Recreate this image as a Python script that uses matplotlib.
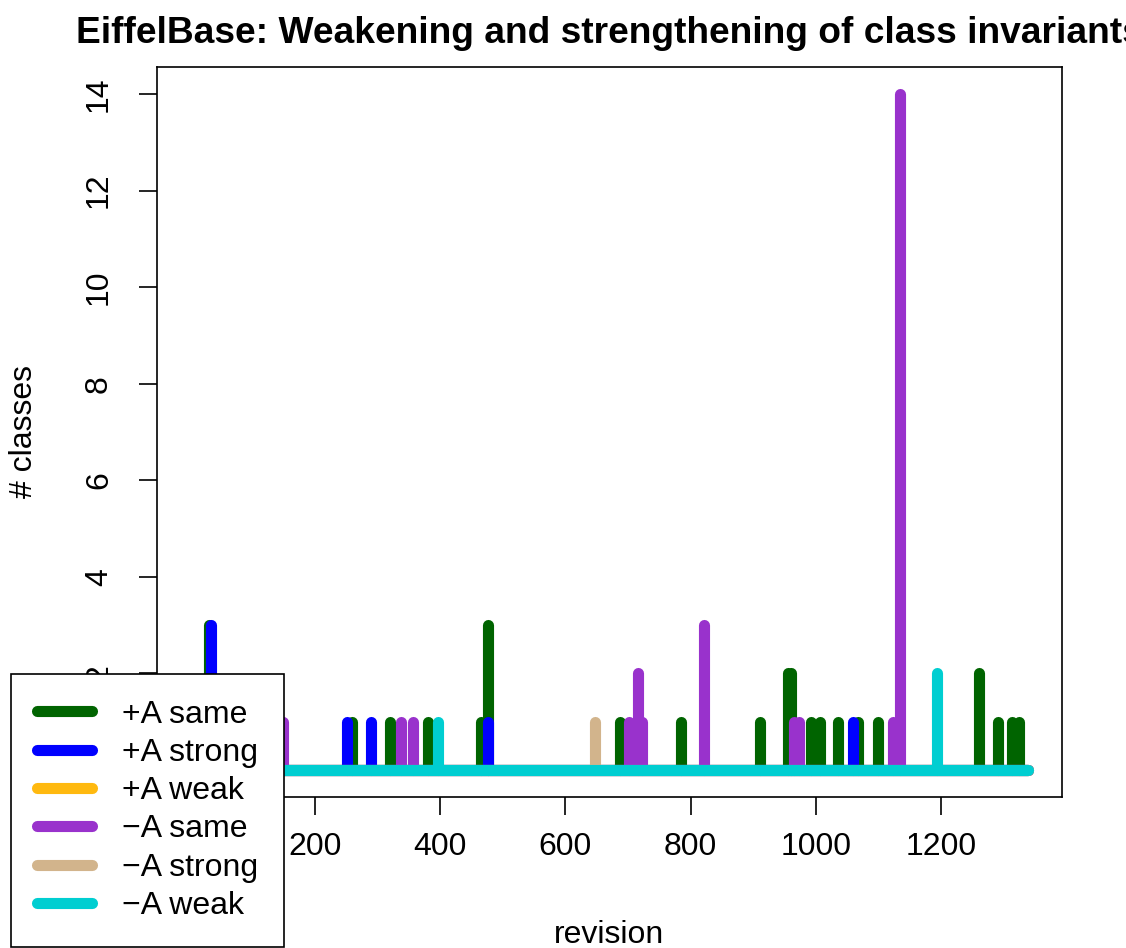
import numpy as np
import matplotlib.pyplot as plt

plt.rcParams['font.family'] = ['Liberation Sans', 'DejaVu Sans']

# revisions covered by the history
first_rev = 1
last_rev = 1340

# (revision, number of classes) for each kind of invariant change
same_plus_rev = [31, 259, 320, 380, 465, 477, 688, 784, 911, 955, 960, 992,
                 1007, 1035, 1067, 1099, 1261, 1291, 1313, 1325]
same_plus_cnt = [3, 1, 1, 1, 1, 3, 1, 1, 1, 2, 2, 1,
                 1, 1, 1, 1, 2, 1, 1, 1]
strong_plus_rev = [34, 251, 289, 477, 1060]
strong_plus_cnt = [3, 1, 1, 1, 1]
weak_plus_rev = []
weak_plus_cnt = []
same_minus_rev = [149, 337, 357, 702, 716, 723, 822, 966, 973, 1124, 1134]
same_minus_cnt = [1, 1, 1, 1, 2, 1, 3, 1, 1, 1, 14]
strong_minus_rev = [648]
strong_minus_cnt = [1]
weak_minus_rev = [396, 1194]
weak_minus_cnt = [1, 2]

labels = ['+A same', '+A strong', '+A weak',
          '\u2212A same', '\u2212A strong', '\u2212A weak']
colors = ['#006400', '#0000FF', '#FFB90F', '#9932CC', '#D2B48C', '#00CED1']
series = [(same_plus_rev, same_plus_cnt), (strong_plus_rev, strong_plus_cnt),
          (weak_plus_rev, weak_plus_cnt), (same_minus_rev, same_minus_cnt),
          (strong_minus_rev, strong_minus_cnt), (weak_minus_rev, weak_minus_cnt)]

fig = plt.figure(figsize=(11.26, 9.48), dpi=100)
ax = fig.add_axes([157 / 1126, 1 - 797 / 948, 905 / 1126, 730 / 948])

lw = 8
fs = 23
handles = []
for (revs, cnts), col, lab in zip(series, colors, labels):
    # zero entries for every revision form the base line
    ax.plot([first_rev, last_rev], [0, 0], color=col, lw=lw,
            solid_capstyle='round')
    if revs:
        ax.vlines(revs, 0, cnts, colors=col, lw=lw, capstyle='round')
    h, = ax.plot([], [], color=col, lw=lw, solid_capstyle='round', label=lab)
    handles.append(h)

span = last_rev - first_rev
ax.set_xlim(first_rev - 0.04 * span, last_rev + 0.04 * span)
ax.set_ylim(-0.56, 14.56)
ax.set_xticks(np.arange(0, 1201, 200))
ax.set_yticks(np.arange(0, 15, 2))
ax.tick_params(labelsize=fs, length=13, width=1.2)
ax.tick_params(axis='x', pad=12)
ax.tick_params(axis='y', pad=18)
plt.setp(ax.get_yticklabels(), rotation=90, va='center')
for s in ax.spines.values():
    s.set_linewidth(1.2)

ax.set_xlabel('revision', fontsize=fs, labelpad=42)
ax.set_ylabel('# classes', fontsize=fs, labelpad=32)
ax.set_title('EiffelBase: Weakening and strengthening of class invariants',
             fontsize=26.7, fontweight='bold', pad=17)

leg = fig.legend(handles=handles, loc='upper left',
                 bbox_to_anchor=(11 / 1126, 1 - 674 / 948),
                 bbox_transform=fig.transFigure, fontsize=fs,
                 fancybox=False, framealpha=1, edgecolor='black',
                 borderaxespad=0, handlelength=1.72, handletextpad=0.95,
                 labelspacing=0.26, borderpad=0.8)
leg.get_frame().set_linewidth(1.2)

fig.savefig('out.png', dpi=100)
